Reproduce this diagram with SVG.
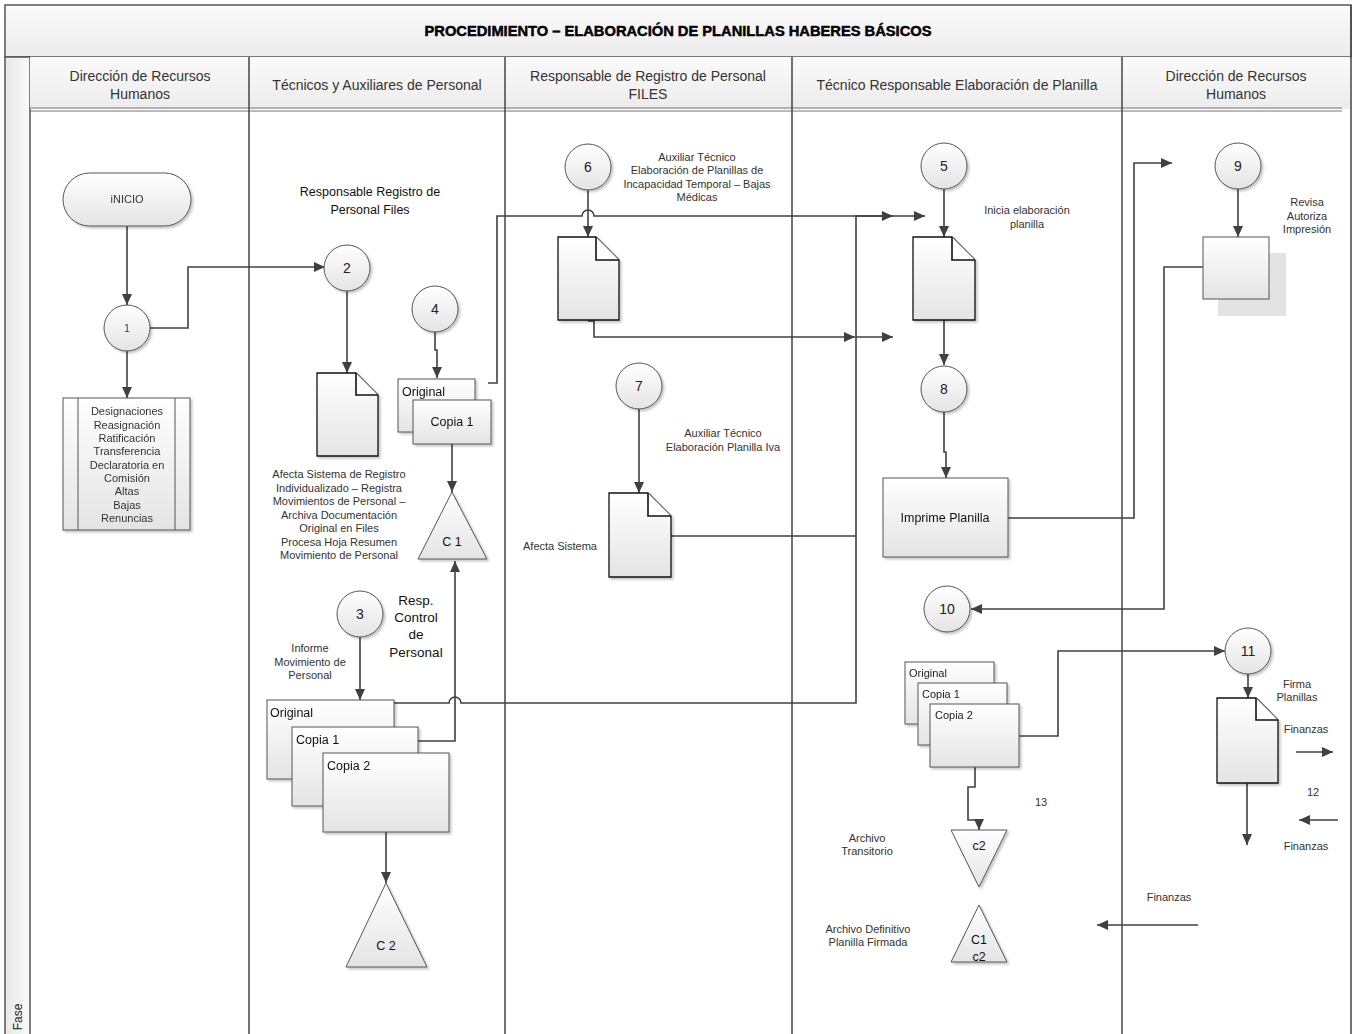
<svg xmlns="http://www.w3.org/2000/svg" width="1358" height="1034" viewBox="0 0 1358 1034" fill="#333">
<style>
.lane{stroke:#444;stroke-width:1.5;fill:none}
.conn{stroke:#404040;stroke-width:1.6;fill:none}
.arr{marker-end:url(#ah)}
.sh{fill:url(#g);stroke:#555;stroke-width:1}
.doc{fill:url(#g);stroke:#111;stroke-width:1.3}
.fold{fill:#fff;stroke:#111;stroke-width:1.6}
text{font-family:"Liberation Sans",Arial,sans-serif;dominant-baseline:central}
.hd{font-size:14px;text-anchor:middle}
.s{font-size:11px;text-anchor:middle}
.n{font-size:14px;text-anchor:middle;fill:#222}
.c{font-size:12.5px;fill:#111}
.cm{font-size:12.5px;fill:#111;text-anchor:middle}
.ttl{font-size:14px;font-weight:bold;fill:#000;stroke:#000;stroke-width:0.45;text-anchor:middle}
</style>
<defs>
<linearGradient id="g" x1="0" y1="0" x2="0" y2="1"><stop offset="0" stop-color="#ffffff"/><stop offset="1" stop-color="#e4e4e4"/></linearGradient>
<linearGradient id="hg" x1="0" y1="0" x2="0" y2="1"><stop offset="0" stop-color="#fafafa"/><stop offset="1" stop-color="#ececec"/></linearGradient>
<linearGradient id="fg" x1="0" y1="0" x2="1" y2="0"><stop offset="0" stop-color="#e8e8e8"/><stop offset="1" stop-color="#fafafa"/></linearGradient>
<marker id="ah" markerUnits="userSpaceOnUse" markerWidth="12" markerHeight="12" refX="11" refY="5" orient="auto"><path d="M0,0 L11,5 L0,10 z" fill="#404040"/></marker>
<filter id="ds" x="-10%" y="-10%" width="130%" height="130%"><feDropShadow dx="2" dy="2" stdDeviation="1" flood-color="#000" flood-opacity="0.22"/></filter>
</defs>
<rect x="0" y="0" width="1358" height="1034" fill="#fff"/>
<g id="frame">
<rect x="5" y="5" width="1346" height="52" fill="url(#hg)" stroke="#555" stroke-width="1.5"/>
<text class="ttl" x="678" y="31" textLength="507" lengthAdjust="spacingAndGlyphs">PROCEDIMIENTO – ELABORACIÓN DE PLANILLAS HABERES BÁSICOS</text>
<rect x="5" y="57" width="25" height="990" fill="url(#fg)" stroke="#555" stroke-width="1.5"/>
<text transform="translate(18,1017) rotate(-90)" font-size="12" fill="#222" text-anchor="middle">Fase</text>
<rect x="30" y="57" width="1320" height="52" fill="url(#hg)"/>
<line x1="1351" y1="5" x2="1351" y2="1040" class="lane"/>
<line x1="30" y1="108" x2="1342" y2="108" stroke="#777" stroke-width="1.2"/>
<line x1="30" y1="111" x2="1342" y2="111" stroke="#777" stroke-width="1.2"/>
<line x1="249" y1="57" x2="249" y2="1040" class="lane"/>
<line x1="505" y1="57" x2="505" y2="1040" class="lane"/>
<line x1="792" y1="57" x2="792" y2="1040" class="lane"/>
<line x1="1122" y1="57" x2="1122" y2="1040" class="lane"/>
<text class="hd" x="140" y="76">Dirección de Recursos</text>
<text class="hd" x="140" y="94">Humanos</text>
<text class="hd" x="377" y="85">Técnicos y Auxiliares de Personal</text>
<text class="hd" x="648" y="76">Responsable de Registro de Personal</text>
<text class="hd" x="648" y="94">FILES</text>
<text class="hd" x="957" y="85">Técnico Responsable Elaboración de Planilla</text>
<text class="hd" x="1236" y="76">Dirección de Recursos</text>
<text class="hd" x="1236" y="94">Humanos</text>
</g>
<g id="connectors">
<path class="conn arr" d="M127,226 V305"/>
<path class="conn arr" d="M127,351 V398"/>
<path class="conn arr" d="M150,328 H188 V267 H325"/>
<path class="conn arr" d="M347,291 V373"/>
<path class="conn arr" d="M435,332 V350 H437 V378"/>
<path class="conn arr" d="M452,444 V492"/>
<path class="conn arr" d="M360,637 V700"/>
<path class="conn arr" d="M418,741 H455 V561"/>
<path class="conn arr" d="M386,832 V883"/>
<path class="conn arr" d="M488,383 H497 V216 H582 A6,6 0 0 1 594,216 H893"/>
<path class="conn arr" d="M394,703 H449 A6,6 0 0 1 461,703 H856 V216 H925"/>
<path class="conn" d="M671,536 H856"/>
<path class="conn arr" d="M588,190 V237"/>
<path class="conn arr" d="M588,321 H594 V337 H855"/>
<path class="conn arr" d="M856,337 H893"/>
<path class="conn arr" d="M639,409 V493"/>
<path class="conn arr" d="M944,189 V237"/>
<path class="conn arr" d="M944,320 V365"/>
<path class="conn arr" d="M944,412 V452 H946 V478"/>
<path class="conn arr" d="M1008,518 H1134 V163 H1172"/>
<path class="conn arr" d="M1238,189 V237"/>
<path class="conn arr" d="M1203,267 H1164 V609 H971"/>
<path class="conn arr" d="M1019,736 H1058 V651 H1225"/>
<path class="conn arr" d="M975,767 V787 H968 V820 H979 V830"/>
<path class="conn arr" d="M1248,674 V698"/>
<path class="conn arr" d="M1247,783 V845"/>
<path class="conn arr" d="M1296,752 H1333"/>
<path class="conn arr" d="M1338,820 H1299"/>
<path class="conn arr" d="M1198,925 H1097"/>
</g>
<g id="n-inicio" filter="url(#ds)">
<rect class="sh" x="63" y="173" width="128" height="53" rx="26.5"/>
<text x="127" y="199" font-size="11" text-anchor="middle">iNICIO</text>
</g>
<g id="n-1" filter="url(#ds)">
<circle class="sh" cx="127" cy="328" r="23"/>
<text x="127" y="328" font-size="10" text-anchor="middle">1</text>
</g>
<g id="n-movimientos" filter="url(#ds)">
<rect class="sh" x="63" y="398" width="127" height="132"/>
<line x1="78" y1="398" x2="78" y2="530" stroke="#555"/>
<line x1="175" y1="398" x2="175" y2="530" stroke="#555"/>
<text class="s" x="127" y="411">Designaciones</text>
<text class="s" x="127" y="425">Reasignación</text>
<text class="s" x="127" y="438">Ratificación</text>
<text class="s" x="127" y="451">Transferencia</text>
<text class="s" x="127" y="465">Declaratoria en</text>
<text class="s" x="127" y="478">Comisión</text>
<text class="s" x="127" y="491">Altas</text>
<text class="s" x="127" y="505">Bajas</text>
<text class="s" x="127" y="518">Renuncias</text>
</g>
<g id="n-2">
<circle class="sh" cx="347" cy="268" r="23" filter="url(#ds)"/>
<text class="n" x="347" y="268">2</text>
<text class="cm" x="370" y="192">Responsable Registro de</text>
<text class="cm" x="370" y="210">Personal Files</text>
</g>
<g id="n-doc2">
<path class="doc" d="M317,373 H356 L378,395 V456 H317 Z" filter="url(#ds)"/>
<path class="fold" d="M356,373 V395 H378"/>
<text class="s" x="339" y="474">Afecta Sistema de Registro</text>
<text class="s" x="339" y="488">Individualizado – Registra</text>
<text class="s" x="339" y="501">Movimientos de Personal –</text>
<text class="s" x="339" y="515">Archiva Documentación</text>
<text class="s" x="339" y="528">Original en Files</text>
<text class="s" x="339" y="542">Procesa Hoja Resumen</text>
<text class="s" x="339" y="555">Movimiento de Personal</text>
</g>
<g id="n-4">
<circle class="sh" cx="435" cy="309" r="23" filter="url(#ds)"/>
<text class="n" x="435" y="309">4</text>
</g>
<g id="n-stack4" filter="url(#ds)">
<rect class="sh" x="398" y="379" width="77" height="53"/>
<text class="c" x="402" y="392">Original</text>
<rect class="sh" x="413" y="400" width="78" height="44"/>
<text class="cm" x="452" y="422">Copia 1</text>
</g>
<g id="n-c1">
<path class="sh" d="M452,492 L487,559 H418 Z" filter="url(#ds)"/>
<text class="cm" x="452" y="542">C 1</text>
</g>
<g id="n-3">
<circle class="sh" cx="360" cy="614" r="23" filter="url(#ds)"/>
<text class="n" x="360" y="614">3</text>
<text class="s" x="310" y="648">Informe</text>
<text class="s" x="310" y="662">Movimiento de</text>
<text class="s" x="310" y="675">Personal</text>
<text x="416" y="600" font-size="13.5" fill="#111" text-anchor="middle">Resp.</text>
<text x="416" y="617" font-size="13.5" fill="#111" text-anchor="middle">Control</text>
<text x="416" y="634" font-size="13.5" fill="#111" text-anchor="middle">de</text>
<text x="416" y="652" font-size="13.5" fill="#111" text-anchor="middle">Personal</text>
</g>
<g id="n-stack3" filter="url(#ds)">
<rect class="sh" x="267" y="700" width="127" height="79"/>
<text class="c" x="270" y="713">Original</text>
<rect class="sh" x="292" y="727" width="126" height="79"/>
<text class="c" x="296" y="740">Copia 1</text>
<rect class="sh" x="323" y="753" width="126" height="79"/>
<text class="c" x="327" y="766">Copia 2</text>
</g>
<g id="n-c2">
<path class="sh" d="M386,883 L427,967 H346 Z" filter="url(#ds)"/>
<text class="cm" x="386" y="946">C 2</text>
</g>
<g id="n-6">
<circle class="sh" cx="588" cy="167" r="23" filter="url(#ds)"/>
<text class="n" x="588" y="167">6</text>
<text class="s" x="697" y="157">Auxiliar Técnico</text>
<text class="s" x="697" y="170">Elaboración de Planillas de</text>
<text class="s" x="697" y="184">Incapacidad Temporal – Bajas</text>
<text class="s" x="697" y="197">Médicas</text>
</g>
<g id="n-doc6">
<path class="doc" d="M558,237 H596 L619,260 V320 H558 Z" filter="url(#ds)"/>
<path class="fold" d="M596,237 V260 H619"/>
</g>
<g id="n-7">
<circle class="sh" cx="639" cy="386" r="23" filter="url(#ds)"/>
<text class="n" x="639" y="386">7</text>
<text class="s" x="723" y="433">Auxiliar Técnico</text>
<text class="s" x="723" y="447">Elaboración Planilla Iva</text>
</g>
<g id="n-doc7">
<path class="doc" d="M609,493 H648 L671,516 V577 H609 Z" filter="url(#ds)"/>
<path class="fold" d="M648,493 V516 H671"/>
<text class="s" x="560" y="546">Afecta Sistema</text>
</g>
<g id="n-5">
<circle class="sh" cx="944" cy="166" r="23" filter="url(#ds)"/>
<text class="n" x="944" y="166">5</text>
<text class="s" x="1027" y="210">Inicia elaboración</text>
<text class="s" x="1027" y="224">planilla</text>
</g>
<g id="n-doc5">
<path class="doc" d="M913,237 H952 L975,260 V320 H913 Z" filter="url(#ds)"/>
<path class="fold" d="M952,237 V260 H975"/>
</g>
<g id="n-8">
<circle class="sh" cx="944" cy="389" r="23" filter="url(#ds)"/>
<text class="n" x="944" y="389">8</text>
</g>
<g id="n-imprime" filter="url(#ds)">
<rect class="sh" x="883" y="478" width="125" height="79"/>
<text class="cm" x="945" y="518">Imprime Planilla</text>
</g>
<g id="n-10">
<circle class="sh" cx="947" cy="609" r="23" filter="url(#ds)"/>
<text class="n" x="947" y="609">10</text>
</g>
<g id="n-stack5" filter="url(#ds)">
<rect class="sh" x="905" y="662" width="89" height="62"/>
<text x="909" y="673" font-size="11" fill="#222">Original</text>
<rect class="sh" x="918" y="683" width="89" height="62"/>
<text x="922" y="694" font-size="11" fill="#222">Copia 1</text>
<rect class="sh" x="930" y="704" width="89" height="63"/>
<text x="935" y="715" font-size="11" fill="#222">Copia 2</text>
</g>
<g id="n-13">
<text class="s" x="1041" y="802">13</text>
</g>
<g id="n-transitorio">
<path class="sh" d="M951,830 H1007 L979,887 Z" filter="url(#ds)"/>
<text class="cm" x="979" y="846">c2</text>
<text class="s" x="867" y="838">Archivo</text>
<text class="s" x="867" y="851">Transitorio</text>
</g>
<g id="n-definitivo">
<path class="sh" d="M979,905 L1007,962 H951 Z" filter="url(#ds)"/>
<text class="cm" x="979" y="940">C1</text>
<text class="cm" x="979" y="957">c2</text>
<text class="s" x="868" y="929">Archivo Definitivo</text>
<text class="s" x="868" y="942">Planilla Firmada</text>
</g>
<g id="n-finanzas-in">
<text class="s" x="1169" y="897">Finanzas</text>
</g>
<g id="n-9">
<circle class="sh" cx="1238" cy="166" r="23" filter="url(#ds)"/>
<text class="n" x="1238" y="166">9</text>
<text class="s" x="1307" y="202">Revisa</text>
<text class="s" x="1307" y="216">Autoriza</text>
<text class="s" x="1307" y="229">Impresión</text>
</g>
<g id="n-box9">
<rect x="1218" y="253" width="68" height="63" fill="#e3e3e3"/>
<rect class="sh" x="1203" y="237" width="66" height="62"/>
</g>
<g id="n-11">
<circle class="sh" cx="1248" cy="651" r="23" filter="url(#ds)"/>
<text class="n" x="1248" y="651">11</text>
<text class="s" x="1297" y="684">Firma</text>
<text class="s" x="1297" y="697">Planillas</text>
</g>
<g id="n-doc11">
<path class="doc" d="M1217,698 H1256 L1278,720 V783 H1217 Z" filter="url(#ds)"/>
<path class="fold" d="M1256,698 V720 H1278"/>
</g>
<g id="n-12">
<text class="s" x="1306" y="729">Finanzas</text>
<text class="s" x="1313" y="792">12</text>
<text class="s" x="1306" y="846">Finanzas</text>
</g>
</svg>
